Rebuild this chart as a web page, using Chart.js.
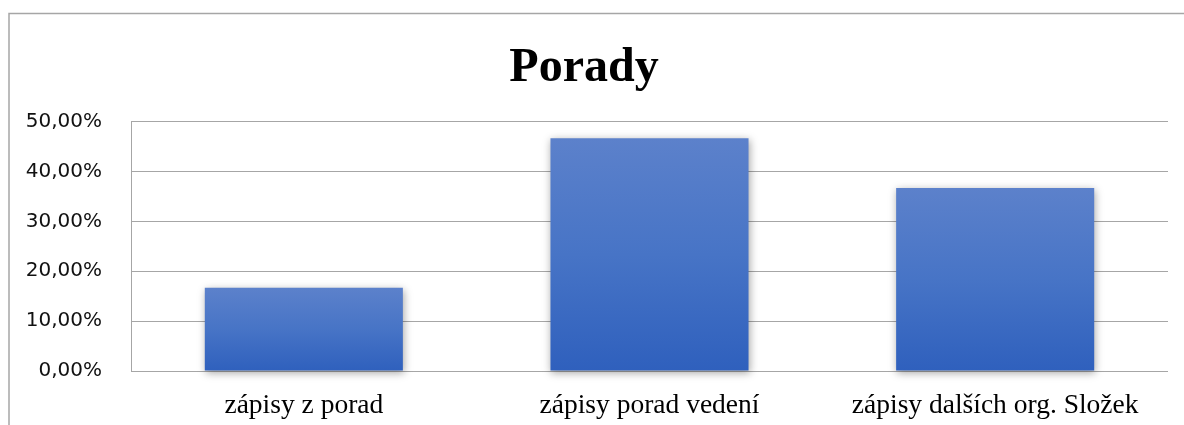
<!DOCTYPE html>
<html>
<head>
<meta charset="utf-8">
<script src="https://cdn.jsdelivr.net/npm/chart.js@4/dist/chart.umd.min.js"></script>
<style>
  html, body { margin: 0; padding: 0; background: #fff; }
  canvas { display: block; }
</style>
</head>
<body>
<canvas id="chart" width="1184" height="425"></canvas>
<script>
const categories = ['zápisy z porad', 'zápisy porad vedení', 'zápisy dalších org. Složek'];
const shares = [16.67, 46.67, 36.67];
const yTicks = [0, 10, 20, 30, 40, 50];

// outer frame + white background
const framePlugin = {
  id: 'frame',
  beforeDraw(chart) {
    const c = chart.ctx;
    c.save();
    c.fillStyle = '#fff';
    c.fillRect(0, 0, chart.width, chart.height);
    c.strokeStyle = '#a6a6a6';
    c.lineWidth = 1.5;
    c.beginPath();
    c.moveTo(9, chart.height);
    c.lineTo(9, 13.5);
    c.lineTo(chart.width, 13.5);
    c.stroke();
    c.restore();
  }
};

// soft shadow under the bars
const shadowPlugin = {
  id: 'barShadow',
  beforeDatasetsDraw(chart) {
    const c = chart.ctx;
    c.save();
    c.shadowColor = 'rgba(0,0,0,0.35)';
    c.shadowBlur = 8;
    c.shadowOffsetX = 1;
    c.shadowOffsetY = 2;
  },
  afterDatasetsDraw(chart) {
    chart.ctx.restore();
  }
};

function barFill(ctx) {
  const chart = ctx.chart;
  if (!chart.chartArea || ctx.dataIndex === undefined) return '#4472c4';
  const y = chart.scales.y;
  const top = y.getPixelForValue(ctx.dataset.data[ctx.dataIndex]);
  const base = y.getPixelForValue(0);
  const g = chart.ctx.createLinearGradient(0, top, 0, base);
  g.addColorStop(0, '#5c81cb');
  g.addColorStop(0.5, '#4774c6');
  g.addColorStop(1, '#2f60bd');
  return g;
}

new Chart(document.getElementById('chart'), {
  type: 'bar',
  data: {
    labels: categories,
    datasets: [{
      data: shares,
      backgroundColor: barFill,
      borderWidth: 0,
      barPercentage: 0.573,
      categoryPercentage: 1,
      clip: false
    }]
  },
  options: {
    responsive: false,
    devicePixelRatio: 1,
    animation: false,
    layout: { padding: { top: 4, left: 0, right: 16, bottom: 6 } },
    plugins: {
      legend: { display: false },
      tooltip: { enabled: false },
      title: {
        display: true,
        text: 'Porady',
        color: '#000',
        font: { family: 'Liberation Serif', size: 48, weight: 'bold' },
        padding: { top: 36, bottom: 24 }
      }
    },
    scales: {
      x: {
        grid: { display: false },
        border: { display: false },
        afterFit(scale) { scale.height = 48; },
        ticks: {
          color: '#000',
          padding: 10,
          maxRotation: 0,
          autoSkip: false,
          font: { family: 'Liberation Serif', size: 27.5 }
        }
      },
      y: {
        min: yTicks[0],
        max: yTicks[yTicks.length - 1],
        afterBuildTicks(scale) {
          scale.ticks = yTicks.map(v => ({ value: v }));
        },
        afterFit(scale) { scale.width = 131; },
        grid: { color: '#a6a6a6', lineWidth: 1, drawTicks: false },
        border: { display: true, color: '#a6a6a6', width: 1 },
        ticks: {
          color: '#111',
          padding: 29,
          font: { family: 'DejaVu Sans', size: 20 },
          callback: v => v.toFixed(2).replace('.', ',') + '%'
        }
      }
    }
  },
  plugins: [framePlugin, shadowPlugin]
});
</script>
</body>
</html>
